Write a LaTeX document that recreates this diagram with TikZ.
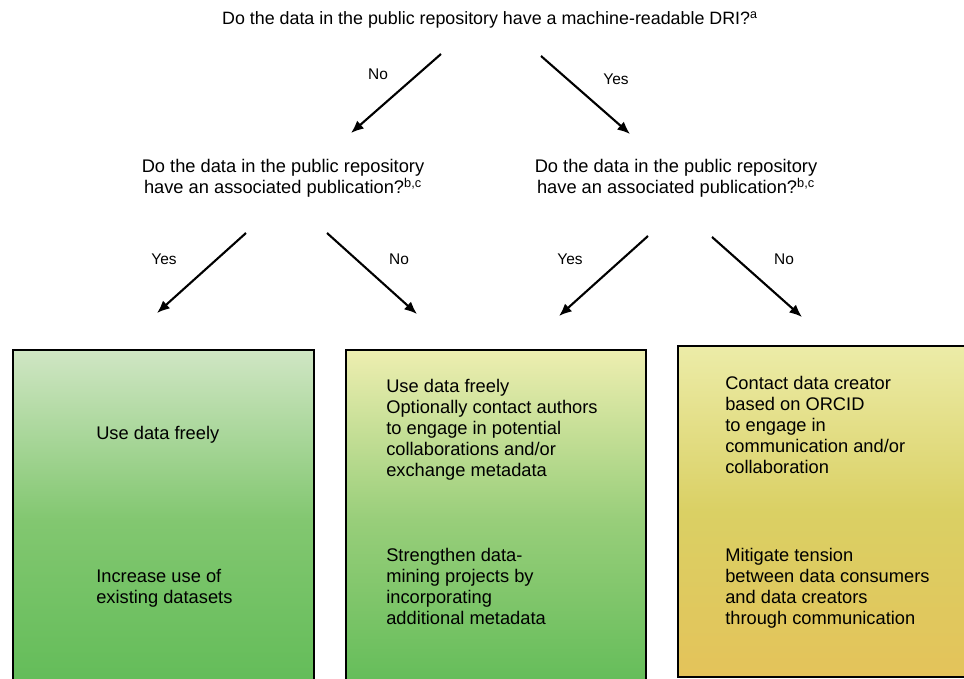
\documentclass[tikz,border=0pt]{standalone}
\usepackage{fontspec}
\setmainfont{Liberation Sans}
\usetikzlibrary{arrows.meta}
\definecolor{greenTop}{RGB}{208,230,196}
\definecolor{greenMid}{RGB}{130,199,112}
\definecolor{greenLow}{RGB}{98,188,88}
\definecolor{paleTop}{RGB}{238,238,176}
\definecolor{paleMid}{RGB}{152,206,122}
\definecolor{goldTop}{RGB}{236,236,168}
\definecolor{goldMid}{RGB}{218,208,100}
\definecolor{goldLow}{RGB}{228,195,90}
\begin{document}
\begin{tikzpicture}[x=0.025cm, y=-0.025cm, font=\fontsize{13}{15}\selectfont,
    arr/.style = {line width=1.5pt, -{Latex[length=9pt,width=7.5pt]}},
    lbl/.style = {font=\fontsize{11}{13}\selectfont},
    box/.style = {draw, line width=1.3pt, anchor=north west, inner sep=0pt},
    txt/.style = {anchor=north west, align=left, inner sep=0pt}]
    \useasboundingbox (0,0) rectangle (964,678);
    \clip (0,0) rectangle (964,678);
    % questions
    \node[font=\fontsize{12.7}{15}\selectfont] (q0) at (490,20) {Do the data in the public repository have a machine-readable DRI?\textsuperscript{a}};
    \node[align=center] (q1) at (283,178) {Do the data in the public repository\\have an associated publication?\textsuperscript{b,c}};
    \node[align=center] (q2) at (676,178) {Do the data in the public repository\\have an associated publication?\textsuperscript{b,c}};
    % arrow ends
    \coordinate (a1) at (441,54);  \coordinate (a1e) at (351,133);
    \coordinate (a2) at (541,56);  \coordinate (a2e) at (630,134);
    \coordinate (a3) at (246,233); \coordinate (a3e) at (157,313);
    \coordinate (a4) at (327,233); \coordinate (a4e) at (417,314);
    \coordinate (a5) at (648,236); \coordinate (a5e) at (559,316);
    \coordinate (a6) at (712,237); \coordinate (a6e) at (802,317);
    \draw[arr] (a1) -- (a1e);
    \draw[arr] (a2) -- (a2e);
    \draw[arr] (a3) -- (a3e);
    \draw[arr] (a4) -- (a4e);
    \draw[arr] (a5) -- (a5e);
    \draw[arr] (a6) -- (a6e);
    \node[lbl] (l1) at (378,74) {No};
    \node[lbl] (l2) at (616,79) {Yes};
    \node[lbl] (l3) at (164,259) {Yes};
    \node[lbl] (l4) at (399,259) {No};
    \node[lbl] (l5) at (570,259) {Yes};
    \node[lbl] (l6) at (784,259) {No};
    % outcome boxes
    \node[box, top color=greenTop, bottom color=greenLow, middle color=greenMid,
          minimum width=7.525cm, minimum height=8.525cm] (b1) at (12,349) {};
    \node[box, top color=paleTop, bottom color=greenLow, middle color=paleMid,
          minimum width=7.5cm, minimum height=8.525cm] (b2) at (345,349) {};
    \node[box, top color=goldTop, bottom color=goldLow, middle color=goldMid,
          minimum width=8.5cm, minimum height=8.275cm] (b3) at (677,345) {};
    \node[txt] (t1) at (96,426) {Use data freely};
    \node[txt] (t2) at (96,569) {Increase use of\\existing datasets};
    \node[txt] (t3) at (386,379) {Use data freely\\Optionally contact authors\\to engage in potential\\collaborations and/or\\exchange metadata};
    \node[txt] (t4) at (386,548) {Strengthen data-\\mining projects by\\incorporating\\additional metadata};
    \node[txt] (t5) at (725,376) {Contact data creator\\based on ORCID\\to engage in\\communication and/or\\collaboration};
    \node[txt] (t6) at (725,548) {Mitigate tension\\between data consumers\\and data creators\\through communication};
\end{tikzpicture}
\end{document}
